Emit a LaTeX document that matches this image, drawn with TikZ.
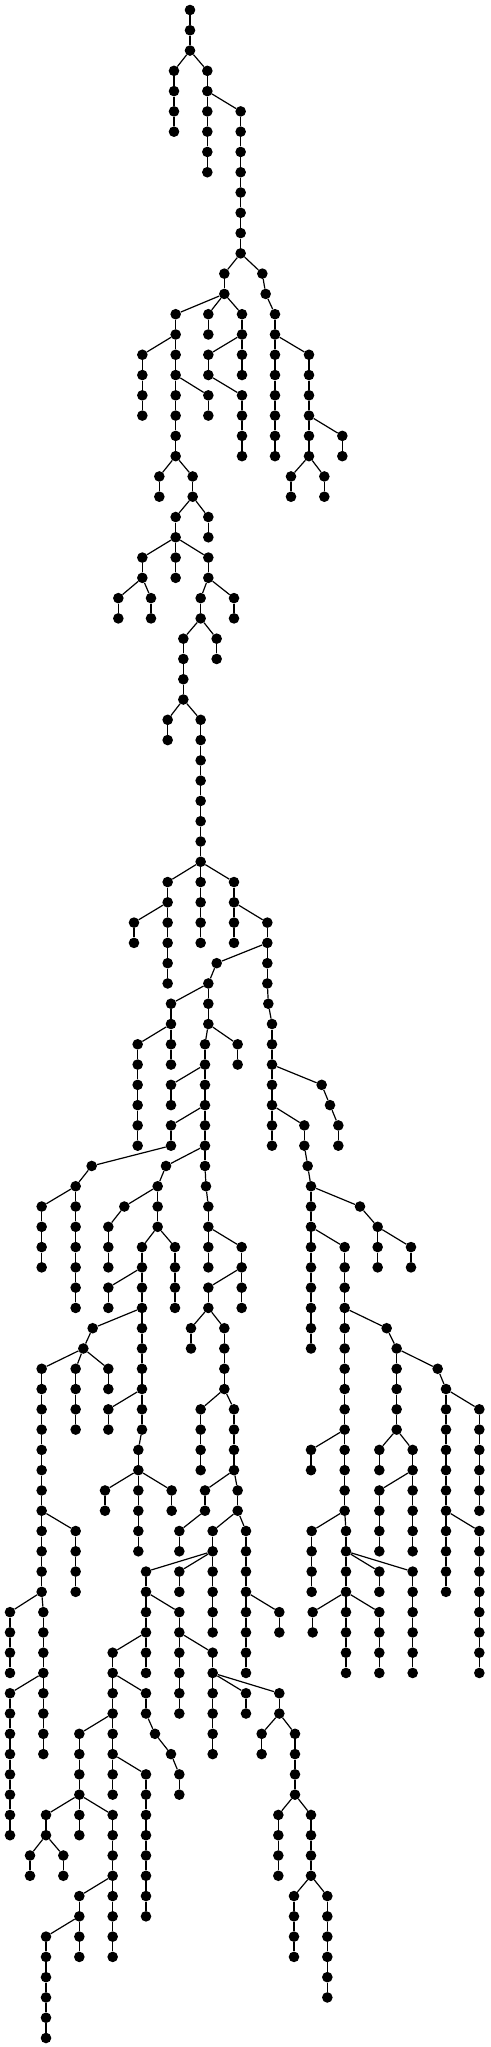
\documentclass[tikz,border=0pt]{standalone}
\begin{document}
\begin{tikzpicture}[x=1pt,y=1pt,
  dot/.style={circle,fill=black,draw=none,inner sep=0pt,minimum size=10.6pt},
  edge/.style={draw=black,line width=1.2pt}]
\useasboundingbox[fill=white] (0,0) rectangle (490,-2047);
\newcommand\tseg[5]{%
  \foreach \lv in {#3,...,#4}{\node[dot] (#1-\lv) at ({#2/3},{-10-20.28*\lv}) {};}%
  \ifnum#4>#3\relax
    \pgfmathtruncatemacro\segstart{#3+1}%
    \foreach \lv in {\segstart,...,#4}{\pgfmathtruncatemacro\segprev{\lv-1}\draw[edge] (#1-\segprev) -- (#1-\lv);}%
  \fi
  \ifx\relax#5\relax\else\draw[edge] (#5) -- (#1-#3);\fi
}
\tseg{R}{570}{0}{2}{}
\tseg{a}{522}{3}{6}{R-2}
\tseg{b}{622}{3}{8}{R-2}
\tseg{c}{722}{5}{12}{b-4}
\tseg{d}{673}{13}{14}{c-12}
\tseg{ea}{787}{13}{13}{c-12}
\tseg{eb}{797}{14}{14}{ea-13}
\tseg{e}{825}{15}{22}{eb-14}
\tseg{f}{927}{17}{22}{e-16}
\tseg{g}{1027}{21}{22}{f-20}
\tseg{h}{873}{23}{24}{f-22}
\tseg{i}{973}{23}{24}{f-22}
\tseg{j}{527}{15}{22}{d-14}
\tseg{k}{625}{15}{16}{d-14}
\tseg{l}{726}{15}{18}{d-14}
\tseg{m}{625}{17}{18}{l-16}
\tseg{n}{726}{19}{22}{m-18}
\tseg{o}{427}{17}{20}{j-16}
\tseg{p}{625}{19}{20}{j-18}
\tseg{q}{478}{23}{24}{j-22}
\tseg{r}{578}{23}{24}{j-22}
\tseg{s}{527}{25}{26}{r-24}
\tseg{t}{625}{25}{26}{r-24}
\tseg{u}{427}{27}{28}{s-26}
\tseg{v}{527}{27}{28}{s-26}
\tseg{w}{625}{27}{28}{s-26}
\tseg{ua}{355}{29}{30}{u-28}
\tseg{ub}{453}{29}{30}{u-28}
\tseg{wa}{602}{29}{30}{w-28}
\tseg{wb}{702}{29}{30}{w-28}
\tseg{xa}{550}{31}{34}{wa-30}
\tseg{xb}{650}{31}{32}{wa-30}
\tseg{ya}{503}{35}{36}{xa-34}
\tseg{yb}{602}{35}{42}{xa-34}
\tseg{za}{503}{43}{44}{yb-42}
\tseg{zb}{602}{43}{46}{yb-42}
\tseg{zc}{702}{43}{44}{yb-42}
\tseg{zaa}{402}{45}{46}{za-44}
\tseg{zab}{503}{45}{48}{za-44}
\tseg{zca}{702}{45}{46}{zc-44}
\tseg{zcb}{802}{45}{48}{zc-44}
\tseg{zcc}{805}{49}{49}{zcb-48}
\tseg{zcd}{816}{50}{56}{zcc-49}
\tseg{aa}{650}{47}{47}{zcb-46}
\tseg{ab}{625}{48}{50}{aa-47}
\tseg{ac}{513}{49}{50}{ab-48}
\tseg{ad}{413}{51}{56}{ac-50}
\tseg{ae}{513}{51}{52}{ac-50}
\tseg{af}{615}{51}{57}{ab-50}
\tseg{ag}{713}{51}{52}{ab-50}
\tseg{afb}{618}{58}{58}{af-57}
\tseg{afc}{625}{59}{62}{afb-58}
\tseg{ah}{725}{61}{64}{afc-60}
\tseg{ai}{513}{53}{54}{af-52}
\tseg{aj}{513}{55}{56}{af-54}
\tseg{ak}{275}{57}{57}{aj-56}
\tseg{al}{227}{58}{64}{ak-57}
\tseg{am}{125}{59}{62}{al-58}
\tseg{an}{498}{57}{57}{af-56}
\tseg{ao}{473}{58}{60}{an-57}
\tseg{ap}{373}{59}{59}{ao-58}
\tseg{aq}{325}{60}{62}{ap-59}
\tseg{ar}{426}{61}{70}{ao-60}
\tseg{as}{525}{61}{64}{ao-60}
\tseg{att}{415}{71}{76}{ar-70}
\tseg{au}{325}{63}{64}{ar-62}
\tseg{av}{278}{65}{65}{ar-64}
\tseg{aw}{250}{66}{66}{av-65}
\tseg{ax}{125}{67}{78}{aw-66}
\tseg{ay}{227}{67}{70}{aw-66}
\tseg{az}{325}{67}{68}{aw-66}
\tseg{ba}{227}{75}{78}{ax-74}
\tseg{bb}{30}{79}{82}{ax-78}
\tseg{bc}{130}{79}{86}{ax-78}
\tseg{bd}{30}{83}{90}{bc-82}
\tseg{be}{325}{69}{70}{ar-68}
\tseg{bf}{315}{73}{74}{att-72}
\tseg{bg}{515}{73}{74}{att-72}
\tseg{bh}{625}{63}{64}{ah-62}
\tseg{bi}{573}{65}{66}{bh-64}
\tseg{bj}{673}{65}{68}{bh-64}
\tseg{bk}{602}{69}{72}{bj-68}
\tseg{bl}{702}{69}{72}{bj-68}
\tseg{bm}{615}{73}{74}{bl-72}
\tseg{bn}{713}{73}{74}{bl-72}
\tseg{bo}{538}{75}{76}{bm-74}
\tseg{bp}{638}{75}{76}{bn-74}
\tseg{bq}{738}{75}{82}{bn-74}
\tseg{br}{438}{77}{82}{bp-76}
\tseg{bs}{538}{77}{78}{bp-76}
\tseg{bt}{638}{77}{80}{bp-76}
\tseg{bu}{538}{79}{84}{br-78}
\tseg{bv}{638}{81}{86}{bu-80}
\tseg{bw}{738}{83}{84}{bv-82}
\tseg{bx}{838}{83}{84}{bv-82}
\tseg{by}{785}{85}{86}{bx-84}
\tseg{bz}{885}{85}{88}{bx-84}
\tseg{ca}{835}{89}{92}{bz-88}
\tseg{cb}{933}{89}{92}{bz-88}
\tseg{cc}{882}{93}{96}{cb-92}
\tseg{cd}{982}{93}{98}{cb-92}
\tseg{ce}{338}{81}{88}{br-80}
\tseg{cf}{438}{83}{84}{ce-82}
\tseg{cg}{465}{85}{85}{cf-84}
\tseg{ch}{513}{86}{86}{cg-85}
\tseg{ci}{538}{87}{88}{ch-86}
\tseg{cj}{238}{85}{88}{ce-84}
\tseg{ck}{438}{87}{94}{ce-86}
\tseg{cl}{138}{89}{90}{cj-88}
\tseg{cm}{238}{89}{90}{cj-88}
\tseg{cn}{338}{89}{96}{cj-88}
\tseg{co}{90}{91}{92}{cl-90}
\tseg{cp}{190}{91}{92}{cl-90}
\tseg{cq}{238}{93}{96}{cn-92}
\tseg{cr}{138}{95}{100}{cq-94}
\tseg{cs}{838}{79}{80}{bq-78}
\tseg{ct}{965}{53}{53}{zcd-52}
\tseg{cu}{990}{54}{54}{ct-53}
\tseg{cv}{1015}{55}{56}{cu-54}
\tseg{cw}{913}{55}{56}{zcd-54}
\tseg{cx}{923}{57}{57}{cw-56}
\tseg{cy}{933}{58}{66}{cx-57}
\tseg{cz}{1080}{59}{59}{cy-58}
\tseg{da}{1133}{60}{62}{cz-59}
\tseg{db}{1233}{61}{62}{da-60}
\tseg{dc}{1034}{61}{74}{cy-60}
\tseg{dd}{1160}{65}{65}{dc-64}
\tseg{de}{1190}{66}{70}{dd-65}
\tseg{df}{1138}{71}{72}{de-70}
\tseg{dg}{1238}{71}{72}{de-70}
\tseg{dh}{1138}{73}{76}{dg-72}
\tseg{di}{1238}{73}{76}{dg-72}
\tseg{dj}{1313}{67}{67}{de-66}
\tseg{dk}{1338}{68}{78}{dj-67}
\tseg{dl}{1438}{69}{74}{dk-68}
\tseg{dm}{1438}{75}{82}{dk-74}
\tseg{dn}{933}{71}{72}{dc-70}
\tseg{dox}{935}{75}{78}{dc-74}
\tseg{dp}{1038}{75}{82}{dc-74}
\tseg{dq}{1138}{77}{78}{dp-76}
\tseg{dr}{1238}{77}{82}{dp-76}
\tseg{ds}{938}{79}{80}{dp-78}
\tseg{dt}{1138}{79}{82}{dp-78}
\end{tikzpicture}
\end{document}
